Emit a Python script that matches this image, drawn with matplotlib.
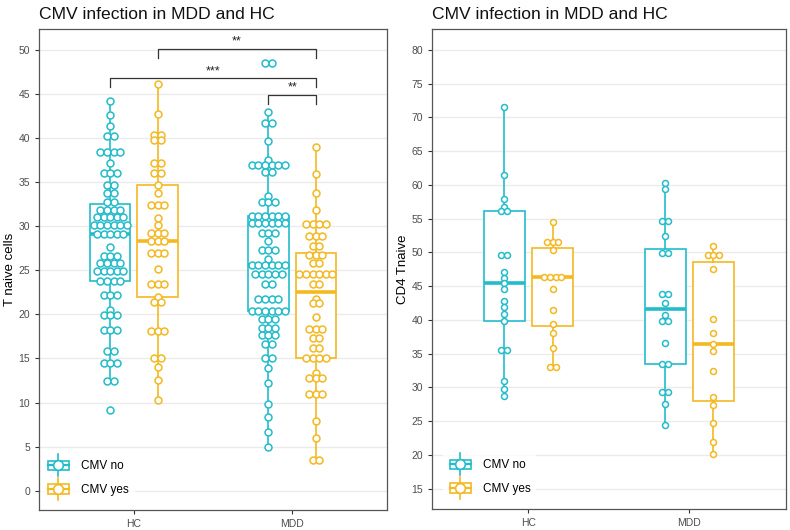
import matplotlib.pyplot as plt
import numpy as np
from matplotlib.legend_handler import HandlerBase
from matplotlib.patches import Rectangle
from matplotlib.lines import Line2D

plt.rcParams['font.family'] = ['Liberation Sans', 'DejaVu Sans']

# dot rows: bin value and number of dots in that row
tn_hc_no_y = [44.2, 42.6, 41.4, 40.2, 38.4, 37.2, 36.1, 34.7, 33.8, 32.8, 31.9, 31.1, 30.2, 29.1,
              27.7, 26.6, 25.8, 24.9, 23.8, 22.2, 20.5, 19.9, 18.2, 15.8, 14.5, 12.4, 9.2]
tn_hc_no_n = [1, 1, 1, 2, 4, 1, 3, 2, 2, 2, 4, 5, 6, 5, 1, 3, 4, 5, 4, 3, 1, 3, 3, 2, 3, 2, 1]

tn_hc_yes_y = [46.2, 42.7, 40.4, 39.8, 37.2, 36.1, 34.7, 33.8, 32.4, 31.0, 30.2, 29.3, 28.3, 27.0,
               25.2, 23.5, 22.0, 21.4, 18.1, 15.0, 14.0, 12.6, 10.3]
tn_hc_yes_n = [1, 1, 2, 2, 2, 2, 1, 1, 3, 1, 1, 3, 3, 3, 1, 3, 1, 2, 3, 2, 1, 1, 1]

tn_mdd_no_y = [48.5, 43.0, 41.7, 39.7, 37.5, 37.0, 36.2, 33.4, 32.8, 31.2, 30.4, 29.2, 28.3, 27.3,
               26.3, 25.6, 24.6, 23.5, 21.7, 20.4, 19.5, 18.5, 17.7, 16.6, 15.1, 13.9, 12.2, 9.8,
               8.4, 6.7, 5.0]
tn_mdd_no_n = [2, 1, 2, 1, 1, 6, 2, 1, 3, 6, 6, 3, 1, 3, 1, 6, 5, 2, 4, 6, 3, 3, 3, 2, 2, 1, 1, 1,
               1, 1, 1]

tn_mdd_yes_y = [39.0, 35.9, 33.8, 31.9, 30.3, 28.9, 27.8, 26.7, 25.8, 24.6, 23.4, 21.8, 21.3, 19.7,
                18.4, 17.3, 16.2, 15.1, 13.3, 12.8, 11.0, 7.9, 6.0, 3.5]
tn_mdd_yes_n = [1, 1, 1, 1, 4, 3, 2, 3, 2, 6, 2, 1, 2, 1, 3, 2, 2, 4, 1, 3, 3, 1, 1, 2]

cd4_hc_no_y = [71.5, 61.4, 57.9, 56.8, 56.1, 49.6, 47.1, 46.2, 45.5, 44.6, 42.8, 41.9, 40.9, 39.8,
               35.6, 31.0, 29.8, 28.8]
cd4_hc_no_n = [1, 1, 1, 1, 2, 2, 1, 1, 1, 1, 1, 1, 1, 1, 2, 1, 1, 1]

cd4_hc_yes_y = [54.5, 51.6, 50.3, 46.3, 44.6, 41.5, 39.4, 38.1, 35.8, 33.0]
cd4_hc_yes_n = [1, 3, 1, 4, 1, 1, 1, 1, 1, 2]

cd4_mdd_no_y = [60.3, 59.4, 54.6, 52.4, 49.9, 43.9, 42.5, 40.8, 39.8, 36.6, 33.5, 29.3, 27.6, 24.5]
cd4_mdd_no_n = [1, 1, 2, 1, 2, 2, 1, 1, 2, 1, 2, 2, 1, 1]

cd4_mdd_yes_y = [50.9, 49.6, 47.5, 40.1, 38.1, 36.5, 35.4, 32.5, 28.6, 27.4, 24.7, 21.9, 20.2]
cd4_mdd_yes_n = [1, 3, 1, 1, 1, 1, 1, 1, 1, 1, 1, 1, 1]

groups = ["HC", "MDD"]
series = ["CMV no", "CMV yes"]
colors = ["#23BCCB", "#F4B820"]

# significance brackets on the left panel: (group a, group b, height, label)
tn_signif = [((0, 1), (1, 1), 50.1, "**"),
             ((0, 0), (1, 1), 46.8, "***"),
             ((1, 0), (1, 1), 44.9, "**")]


class BoxKey(HandlerBase):
    def create_artists(self, legend, orig, xd, yd, w, h, fs, trans):
        c = orig.get_color()
        x0, y0 = -xd, -yd
        cx, cy = x0 + w / 2, y0 + h / 2
        top = Line2D([cx, cx], [y0 + 0.8 * h, y0 + 1.2 * h], color=c, lw=1.2)
        bot = Line2D([cx, cx], [y0 - 0.2 * h, y0 + 0.2 * h], color=c, lw=1.2)
        rect = Rectangle((x0 + 0.05 * w, y0 + 0.2 * h), 0.9 * w, 0.6 * h,
                         fc="white", ec=c, lw=1.2)
        med = Line2D([x0 + 0.05 * w, x0 + 0.95 * w], [cy, cy], color=c, lw=1.6)
        dot = Line2D([cx], [cy], marker="o", ms=7, mfc="white", mec=c, mew=1.2, ls="none")
        arts = [top, bot, rect, med, dot]
        for a in arts:
            a.set_transform(trans)
        return arts


def panel(ax, data, dodge, spacing, msize, ylim, yticks, ylabel, leg_x):
    for gi in range(2):
        for si in range(2):
            ys, ns = data[gi][si]
            x = gi + 1 + (si - 0.5) * 2 * dodge
            col = colors[si]
            vals = np.repeat(ys, ns)
            ax.boxplot([vals], positions=[x], widths=0.255, showfliers=False, showcaps=False,
                       patch_artist=True, whis=1.5,
                       boxprops=dict(facecolor="white", edgecolor=col, lw=1.2),
                       whiskerprops=dict(color=col, lw=1.2),
                       medianprops=dict(color=col, lw=2.6),
                       zorder=3)
            for y, n in zip(ys, ns):
                offs = (np.arange(n) - (n - 1) / 2) * spacing
                ax.plot(x + offs, np.full(n, y), "o", ls="none", ms=msize, mfc="white",
                        mec=col, mew=1.1, zorder=4)
    ax.set_xlim(0.4, 2.6)
    ax.set_ylim(*ylim)
    ax.set_yticks(yticks)
    ax.set_xticks([1, 2])
    ax.set_xticklabels(groups)
    ax.yaxis.grid(True, color="#EBEBEB", lw=1.0)
    ax.set_axisbelow(True)
    ax.tick_params(labelsize=7.5, length=3, width=0.8, colors="#333333", labelcolor="#4D4D4D")
    for s in ax.spines.values():
        s.set_color("#555555")
        s.set_linewidth(0.9)
    ax.set_ylabel(ylabel, fontsize=9.5, labelpad=2)
    ax.set_title("CMV infection in MDD and HC", loc="left", fontsize=12.6, pad=7,
                 color="#111111")
    handles = [Line2D([], [], color=c) for c in colors]
    leg = ax.legend(handles, series, handler_map={Line2D: BoxKey()}, loc="lower left",
                    bbox_to_anchor=(leg_x, 0.015), borderaxespad=0, fontsize=8.5,
                    handlelength=2.0, handleheight=1.7, handletextpad=0.9, labelspacing=0.65,
                    frameon=True, fancybox=False, borderpad=0.5)
    leg.get_frame().set_edgecolor("none")
    leg.get_frame().set_facecolor("white")
    leg.set_zorder(5)


fig = plt.figure(figsize=(7.9, 5.3), dpi=100)
ax1 = fig.add_axes([0.0494, 0.0377, 0.4405, 0.9076])
ax2 = fig.add_axes([0.5468, 0.0396, 0.448, 0.9057])

tn_data = [[(tn_hc_no_y, tn_hc_no_n), (tn_hc_yes_y, tn_hc_yes_n)],
           [(tn_mdd_no_y, tn_mdd_no_n), (tn_mdd_yes_y, tn_mdd_yes_n)]]
cd4_data = [[(cd4_hc_no_y, cd4_hc_no_n), (cd4_hc_yes_y, cd4_hc_yes_n)],
            [(cd4_mdd_no_y, cd4_mdd_no_n), (cd4_mdd_yes_y, cd4_mdd_yes_n)]]

dodge = 0.15
panel(ax1, tn_data, dodge, 0.042, 5.0, (-2.2, 52.4), np.arange(0, 51, 5), "T naive cells", 0.005)
panel(ax2, cd4_data, dodge, 0.036, 4.3, (12.0, 83.1), np.arange(15, 81, 5), "CD4 Tnaive", 0.03)

for (ga, sa), (gb, sb), y, lab in tn_signif:
    xa = ga + 1 + (sa - 0.5) * 2 * dodge
    xb = gb + 1 + (sb - 0.5) * 2 * dodge
    ax1.plot([xa, xa, xb, xb], [y - 1.0, y, y, y - 1.0], color="#333333", lw=0.9, zorder=6)
    ax1.text((xa + xb) / 2, y + 0.15, lab, ha="center", va="bottom", fontsize=9,
             color="#222222", zorder=6)

fig.savefig("out.png", dpi=100)
